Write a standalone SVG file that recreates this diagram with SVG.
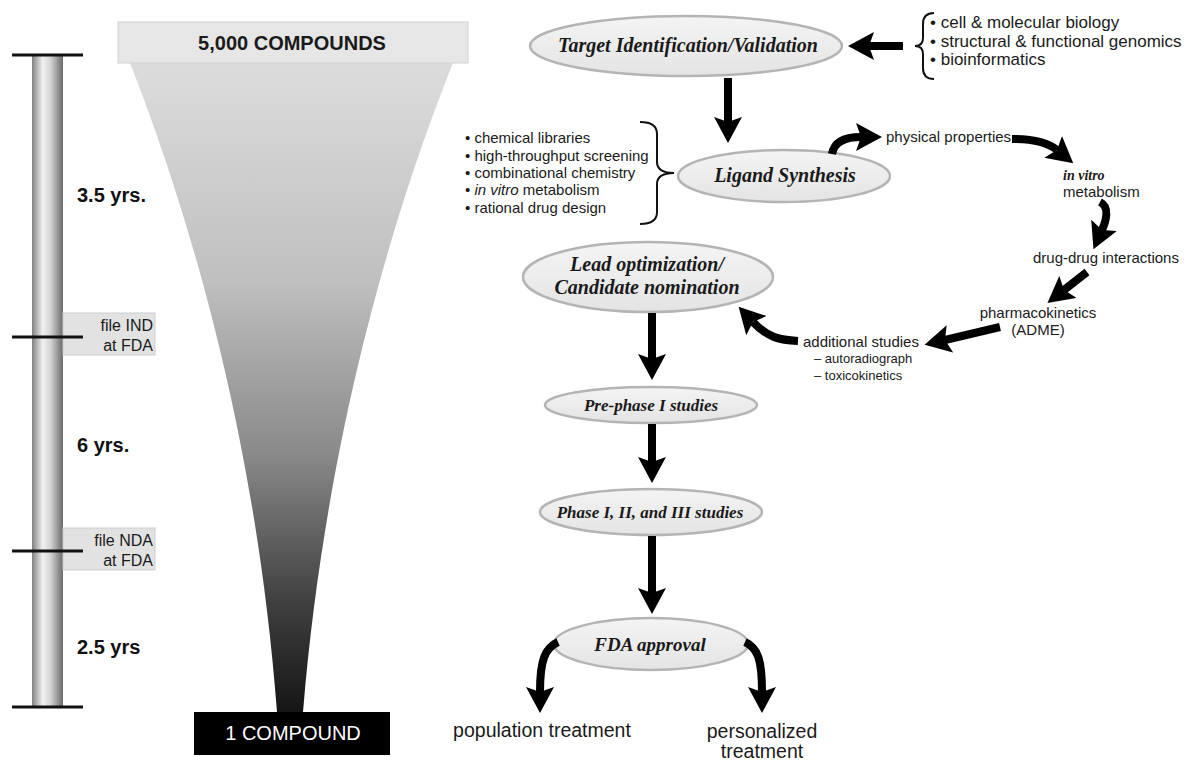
<svg xmlns="http://www.w3.org/2000/svg" width="1191" height="762" viewBox="0 0 1191 762">
<defs>
<style>
.sans{font-family:"Liberation Sans",Arial,sans-serif;fill:#1a1a1a}
.node{font-family:"Liberation Serif","Times New Roman",serif;font-weight:bold;font-style:italic;fill:#1a1a1a;text-anchor:middle}
.ell{fill:url(#ellg);stroke:#b4b4b4;stroke-width:2.5}
.yrs{font-family:"Liberation Sans",Arial,sans-serif;font-weight:bold;font-size:20px;fill:#111}
.tick{stroke:#111;stroke-width:3}
.fbox{fill:#e2e2e2;stroke:#cdcdcd;stroke-width:1}
.arr{fill:none;stroke:#000;stroke-width:8;marker-end:url(#head)}
.brk{fill:none;stroke:#111;stroke-width:2}
</style>
<linearGradient id="ellg" x1="0" y1="0" x2="0" y2="1">
<stop offset="0" stop-color="#f4f4f4"/><stop offset="1" stop-color="#e4e4e4"/>
</linearGradient>
<linearGradient id="cyl" x1="0" y1="0" x2="1" y2="0">
<stop offset="0" stop-color="#808080"/><stop offset="0.35" stop-color="#f2f2f2"/><stop offset="0.6" stop-color="#d4d4d4"/><stop offset="1" stop-color="#6a6a6a"/>
</linearGradient>
<linearGradient id="fun" x1="0" y1="64" x2="0" y2="712" gradientUnits="userSpaceOnUse">
<stop offset="0" stop-color="#dcdcdc"/><stop offset="0.33" stop-color="#c0c0c0"/><stop offset="0.6" stop-color="#8a8a8a"/><stop offset="0.83" stop-color="#404040"/><stop offset="1" stop-color="#151515"/>
</linearGradient>
<marker id="head" viewBox="0 0 26 28" markerWidth="26" markerHeight="28" refX="5" refY="14" orient="auto" markerUnits="userSpaceOnUse">
<path d="M0,0 L26,14 L0,28 L5,14 Z" fill="#000"/>
</marker>
</defs>
<rect width="1191" height="762" fill="#fff"/>

<g id="timeline">
<rect x="32" y="55" width="31" height="652" fill="url(#cyl)"/>
<rect class="fbox" x="63" y="313" width="92" height="42"/>
<rect class="fbox" x="63" y="528" width="92" height="42"/>
<line class="tick" x1="12" y1="55" x2="83" y2="55"/>
<line class="tick" x1="12" y1="337" x2="83" y2="337"/>
<line class="tick" x1="12" y1="551" x2="83" y2="551"/>
<line class="tick" x1="12" y1="707" x2="83" y2="707"/>
<text class="yrs" x="77" y="202">3.5 yrs.</text>
<text class="yrs" x="77" y="452">6 yrs.</text>
<text class="yrs" x="77" y="654">2.5 yrs</text>
<text class="sans" font-size="16" text-anchor="end" x="153" y="331">file IND</text>
<text class="sans" font-size="16" text-anchor="end" x="153" y="351">at FDA</text>
<text class="sans" font-size="16" text-anchor="end" x="153" y="546">file NDA</text>
<text class="sans" font-size="16" text-anchor="end" x="153" y="566">at FDA</text>
</g>

<g id="funnel">
<path d="M130,63 C180,190 255,420 277,712 L303,712 C327,420 402,190 453,63 Z" fill="url(#fun)"/>
<rect x="118" y="22" width="350" height="41" fill="#e6e6e6" stroke="#d2d2d2"/>
<text class="sans" font-size="20" font-weight="bold" text-anchor="middle" x="292" y="50">5,000 COMPOUNDS</text>
<rect x="194" y="712" width="196" height="43" fill="#000"/>
<text font-family="Liberation Sans,Arial,sans-serif" font-size="20" fill="#fff" text-anchor="middle" x="293" y="740">1 COMPOUND</text>
</g>

<g id="target">
<ellipse class="ell" cx="686" cy="46" rx="156" ry="30"/>
<text class="node" font-size="20" x="688" y="52">Target Identification/Validation</text>
</g>

<g id="target-inputs">
<path class="brk" d="M934,13 Q923,13 923,24 L923,38 Q923,46 915,46 Q923,46 923,54 L923,68 Q923,79 934,79"/>
<text class="sans" font-size="17" x="930" y="28">• cell &amp; molecular biology</text>
<text class="sans" font-size="17" x="930" y="46.5">• structural &amp; functional genomics</text>
<text class="sans" font-size="17" x="930" y="65">• bioinformatics</text>
</g>

<g id="ligand">
<ellipse class="ell" cx="784" cy="176" rx="106" ry="26"/>
<text class="node" font-size="20" x="785" y="182">Ligand Synthesis</text>
</g>

<g id="ligand-inputs">
<text class="sans" font-size="15" x="465" y="143">• chemical libraries</text>
<text class="sans" font-size="15" x="465" y="161">• high-throughput screening</text>
<text class="sans" font-size="15" x="465" y="178">• combinational chemistry</text>
<text class="sans" font-size="15" x="465" y="195">• <tspan font-style="italic">in vitro</tspan> metabolism</text>
<text class="sans" font-size="15" x="465" y="213">• rational drug design</text>
<path class="brk" d="M640,122 Q657,122 657,134 L657,162 Q657,173 674,173 Q657,173 657,184 L657,212 Q657,224 640,224"/>
</g>

<g id="physical">
<text class="sans" font-size="15" x="886" y="142">physical properties</text>
</g>
<g id="invitro">
<text font-family="Liberation Serif,Times New Roman,serif" font-style="italic" font-weight="bold" font-size="14" fill="#1a1a1a" x="1063" y="180">in vitro</text>
<text class="sans" font-size="15" x="1063" y="197">metabolism</text>
</g>
<g id="ddi">
<text class="sans" font-size="15" x="1033" y="263">drug-drug interactions</text>
</g>
<g id="pk">
<text class="sans" font-size="15" text-anchor="middle" x="1038" y="318">pharmacokinetics</text>
<text class="sans" font-size="15" text-anchor="middle" x="1038" y="335">(ADME)</text>
</g>
<g id="additional">
<text class="sans" font-size="15" x="803" y="347">additional studies</text>
<text class="sans" font-size="13" x="814" y="363">– autoradiograph</text>
<text class="sans" font-size="13" x="814" y="380">– toxicokinetics</text>
</g>

<g id="lead">
<ellipse class="ell" cx="648" cy="277" rx="125" ry="35"/>
<text class="node" font-size="20" x="647" y="271">Lead optimization/</text>
<text class="node" font-size="20" x="647" y="294">Candidate nomination</text>
</g>

<g id="prephase">
<ellipse class="ell" cx="651" cy="405" rx="106" ry="18"/>
<text class="node" font-size="17" x="651" y="411">Pre-phase I studies</text>
</g>

<g id="phase">
<ellipse class="ell" cx="651" cy="512" rx="111" ry="23"/>
<text class="node" font-size="17" x="650" y="518">Phase I, II, and III studies</text>
</g>

<g id="fda">
<ellipse class="ell" cx="651" cy="644" rx="97" ry="26"/>
<text class="node" font-size="19" x="650" y="651">FDA approval</text>
</g>

<g id="population">
<text class="sans" font-size="19.5" text-anchor="middle" x="542" y="737">population treatment</text>
</g>
<g id="personalized">
<text class="sans" font-size="19.5" text-anchor="middle" x="762" y="738">personalized</text>
<text class="sans" font-size="19.5" text-anchor="middle" x="762" y="758">treatment</text>
</g>

<g id="connectors">
<path class="arr" d="M903,46 L869,46"/>
<path class="arr" d="M728,78 L728,122"/>
<path class="arr" d="M832,154 C834,142 844,137 861,137"/>
<path class="arr" d="M1012,139 C1030,139 1046,141 1057,150"/>
<path class="arr" d="M1100,202 C1110,207 1106,221 1102,230"/>
<path class="arr" d="M1087,272 L1064,290"/>
<path class="arr" d="M1000,327 L945,340"/>
<path class="arr" d="M798,341 C780,340 768,338 753,322"/>
<path class="arr" d="M652,313 L652,359"/>
<path class="arr" d="M652,424 L652,462"/>
<path class="arr" d="M652,536 L652,593"/>
<path class="arr" d="M558,642 C545,648 540,660 540,692"/>
<path class="arr" d="M745,642 C758,648 762,660 762,692"/>
</g>
</svg>
